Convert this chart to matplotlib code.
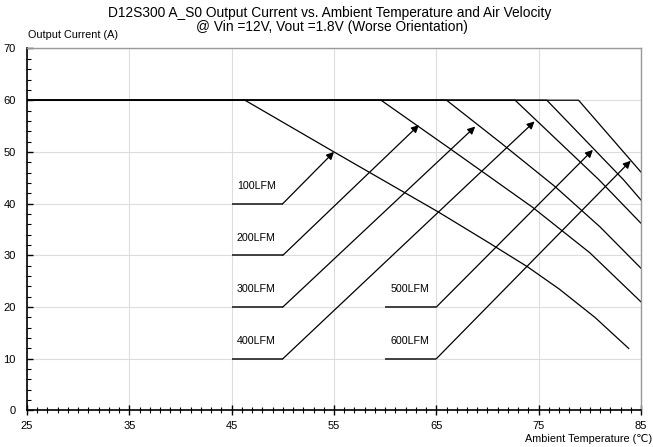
import matplotlib
matplotlib.use("Agg")
import matplotlib.pyplot as plt
from matplotlib.ticker import MultipleLocator, FixedLocator

plt.rcParams['font.family'] = ['Liberation Sans', 'DejaVu Sans']

# derating curves (temperature, current)
curve_100_x = [25, 46.3, 55.0, 60.0, 65.1, 70.0, 73.9, 77.0, 80.5, 83.8]
curve_100_y = [60, 60, 50.0, 44.3, 38.5, 32.6, 27.8, 23.5, 18.0, 12.0]
curve_200_x = [25, 59.6, 66.5, 74.4, 80.0, 85]
curve_200_y = [60, 60, 50.4, 39.3, 30.5, 21.0]
curve_300_x = [25, 66.0, 71.4, 76.6, 81.0, 85]
curve_300_y = [60, 60, 51.6, 43.3, 35.5, 27.5]
curve_400_x = [25, 72.7, 80.9, 85]
curve_400_y = [60, 60, 44.6, 36.2]
curve_500_x = [25, 75.8, 83.3, 85]
curve_500_y = [60, 60, 44.6, 40.7]
curve_600_x = [25, 78.9, 85]
curve_600_y = [60, 60, 46.1]

curves = [
    (curve_100_x, curve_100_y),
    (curve_200_x, curve_200_y),
    (curve_300_x, curve_300_y),
    (curve_400_x, curve_400_y),
    (curve_500_x, curve_500_y),
    (curve_600_x, curve_600_y),
]

# labels: name, leader line start/end x, leader y, arrow tip
labels = ["100LFM", "200LFM", "300LFM", "400LFM", "500LFM", "600LFM"]
lead_x0 = [45, 45, 45, 45, 60, 60]
lead_x1 = [50, 50, 50, 50, 65, 65]
lead_y = [40, 30, 20, 10, 20, 10]
tip_x = [55.0, 63.3, 68.8, 74.6, 80.3, 84.0]
tip_y = [50.0, 55.2, 54.9, 55.9, 50.4, 48.3]

x_ticks = [25, 35, 45, 55, 65, 75, 85]

fig = plt.figure(figsize=(6.53, 4.47), dpi=100)
ax = fig.add_axes([0.0413, 0.0817, 0.9403, 0.8098])

for cx, cy in curves:
    ax.plot(cx, cy, color="black", lw=0.9)

for name, x0, x1, y, tx, ty in zip(labels, lead_x0, lead_x1, lead_y, tip_x, tip_y):
    ax.plot([x0, x1], [y, y], color="#222222", lw=1.2, solid_capstyle="butt")
    ax.annotate("", xy=(tx, ty), xytext=(x1, y),
                arrowprops=dict(arrowstyle="-|>", color="black", lw=0.9,
                                mutation_scale=11, shrinkA=0, shrinkB=0))
    ax.text(x0 + 0.5, y + 3.4, name, fontsize=7.7, va="center", ha="left")

ax.set_xlim(25, 85)
ax.set_ylim(0, 70)
ax.xaxis.set_major_locator(FixedLocator(x_ticks))
ax.xaxis.set_minor_locator(MultipleLocator(1))
ax.yaxis.set_major_locator(MultipleLocator(10))
ax.yaxis.set_minor_locator(MultipleLocator(2))

ax.grid(True, which="major", color="#dddddd", lw=0.8)
ax.set_axisbelow(True)

for s in ["top", "right"]:
    ax.spines[s].set_color("#999999")
    ax.spines[s].set_linewidth(1.0)
for s in ["left", "bottom"]:
    ax.spines[s].set_color("black")
    ax.spines[s].set_linewidth(1.2)

ax.tick_params(axis="x", which="major", direction="inout", length=7, width=1.0,
               labelsize=8, pad=4)
ax.tick_params(axis="x", which="minor", direction="inout", length=4, width=0.8)
ax.tick_params(axis="y", which="major", direction="in", length=4, width=1.0,
               labelsize=8, pad=8)
ax.tick_params(axis="y", which="minor", direction="in", length=3, width=0.8)

fig.text(0.505, 0.971, "D12S300 A_S0 Output Current vs. Ambient Temperature and Air Velocity",
         ha="center", va="center", fontsize=9.9)
fig.text(0.508, 0.939, "@ Vin =12V, Vout =1.8V (Worse Orientation)",
         ha="center", va="center", fontsize=9.9)
fig.text(0.043, 0.922, "Output Current (A)", ha="left", va="center", fontsize=7.8)
fig.text(0.998, 0.017, "Ambient Temperature (℃)", ha="right", va="center", fontsize=7.8)

fig.savefig("out.png", dpi=100)
